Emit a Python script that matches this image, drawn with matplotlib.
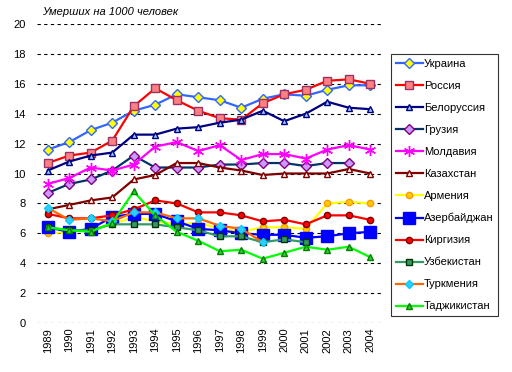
import matplotlib
matplotlib.use('Agg')
import matplotlib.pyplot as plt
import numpy as np

plt.rcParams['font.family'] = ['Liberation Sans', 'DejaVu Sans']

years = list(range(1989, 2005))
nan = np.nan

ukraine = [11.6, 12.1, 12.9, 13.4, 14.2, 14.6, 15.3, 15.1, 14.9, 14.4, 15.0, 15.3, 15.2, 15.6, 15.9, 15.9]
russia = [10.7, 11.2, 11.4, 12.2, 14.5, 15.7, 14.9, 14.2, 13.7, 13.6, 14.7, 15.3, 15.6, 16.2, 16.3, 16.0]
belarus = [10.2, 10.8, 11.2, 11.4, 12.6, 12.6, 13.0, 13.1, 13.4, 13.6, 14.2, 13.5, 14.0, 14.8, 14.4, 14.3]
georgia = [8.7, 9.3, 9.6, 10.2, 11.2, 10.4, 10.4, 10.4, 10.6, 10.6, 10.7, 10.7, 10.5, 10.7, 10.7, nan]
moldova = [9.3, 9.7, 10.4, 10.2, 10.6, 11.8, 12.1, 11.5, 11.9, 10.9, 11.3, 11.3, 11.0, 11.6, 11.9, 11.6]
kazakhstan = [7.6, 7.9, 8.2, 8.4, 9.6, 9.9, 10.7, 10.7, 10.4, 10.2, 9.9, 10.0, 10.0, 10.0, 10.3, 10.0]
armenia = [6.0, 6.1, 6.3, 6.6, 7.1, 6.8, 6.6, 6.7, 6.3, 6.1, 6.4, 6.4, 6.3, 8.0, 8.1, 8.0]
azerbaijan = [6.4, 6.1, 6.3, 7.1, 7.3, 7.3, 6.8, 6.3, 6.2, 6.0, 5.9, 5.9, 5.7, 5.8, 6.0, 6.1]
kirgizia = [7.3, 7.0, 7.0, 7.2, 7.6, 8.2, 8.0, 7.4, 7.4, 7.2, 6.8, 6.9, 6.6, 7.2, 7.2, 6.9]
uzbekistan = [6.4, 6.2, 6.2, 6.6, 6.6, 6.6, 6.4, 6.2, 5.8, 5.8, 5.4, 5.6, 5.4, nan, nan, nan]
turkmenia = [7.7, 6.9, 7.0, 6.8, 7.4, 7.4, 7.0, 7.0, 6.5, 6.3, 5.4, nan, nan, nan, nan, nan]
tajikistan = [6.4, 6.2, 6.1, 6.7, 8.8, 7.2, 6.1, 5.5, 4.8, 4.9, 4.3, 4.7, 5.1, 4.9, 5.1, 4.4]

series = [
    ('Украина', ukraine, dict(color='#3366FF', marker='D', ms=5, mfc='#FFFF00', mec='#3366FF')),
    ('Россия', russia, dict(color='#FF0000', marker='s', ms=6, mfc='#FF8080', mec='#993366')),
    ('Белоруссия', belarus, dict(color='#000080', marker='^', ms=5, mfc='#99CCFF', mec='#000080')),
    ('Грузия', georgia, dict(color='#003366', marker='D', ms=5, mfc='#CC99FF', mec='#800080')),
    ('Молдавия', moldova, dict(color='#FF00FF', marker=(6, 2, 0), ms=8, mfc='#FF00FF', mec='#FF00FF')),
    ('Казахстан', kazakhstan, dict(color='#800000', marker='^', ms=5, mfc='white', mec='#800000')),
    ('Армения', armenia, dict(color='#FFFF00', marker='o', ms=4.5, mfc='#FFCC00', mec='#FF9900')),
    ('Азербайджан', azerbaijan, dict(color='#0000FF', marker='s', ms=8, mfc='#0000FF', mec='#0000FF')),
    ('Киргизия', kirgizia, dict(color='#FF0000', marker='o', ms=4.5, mfc='#FF0000', mec='#800000')),
    ('Узбекистан', uzbekistan, dict(color='#339966', marker='s', ms=5, mfc='#339966', mec='#003300')),
    ('Туркмения', turkmenia, dict(color='#FF6600', marker='D', ms=4.5, mfc='#33CCFF', mec='#00CCFF')),
    ('Таджикистан', tajikistan, dict(color='#00FF00', marker='^', ms=5, mfc='#33CC33', mec='#008000')),
]

fig = plt.figure(figsize=(5.12, 3.72), dpi=100)
ax = fig.add_axes([37 / 512, 1 - 323 / 372, 344 / 512, 299 / 372])

x = np.arange(len(years))
for name, vals, st in series:
    ax.plot(x, vals, lw=1.6, mew=1, label=name, **st)

ax.set_xlim(-0.5, len(years) - 0.5)
ax.set_ylim(0, 20)
ax.set_yticks(range(0, 21, 2))
ax.set_xticks(x)
ax.set_xticklabels([str(y) for y in years], rotation=90, fontsize=8)
ax.tick_params(axis='both', length=0, labelsize=8)
ax.tick_params(axis='y', pad=8)
ax.yaxis.grid(True, color='black', linestyle=(0, (3, 3)), linewidth=0.8)
ax.set_axisbelow(True)
for spine in ax.spines.values():
    spine.set_visible(False)

fig.text(42 / 512, 1 - 12 / 372, 'Умерших на 1000 человек', fontsize=8, style='italic',
         ha='left', va='center')

leg = fig.legend(loc='upper left', bbox_to_anchor=(391 / 512, 1 - 54 / 372), fontsize=8,
                 frameon=True, fancybox=False, edgecolor='black', handlelength=2.4,
                 handletextpad=0.1, labelspacing=1.08, borderpad=0.45, borderaxespad=0)
leg.get_frame().set_linewidth(0.8)

fig.savefig('out.png', dpi=100)
